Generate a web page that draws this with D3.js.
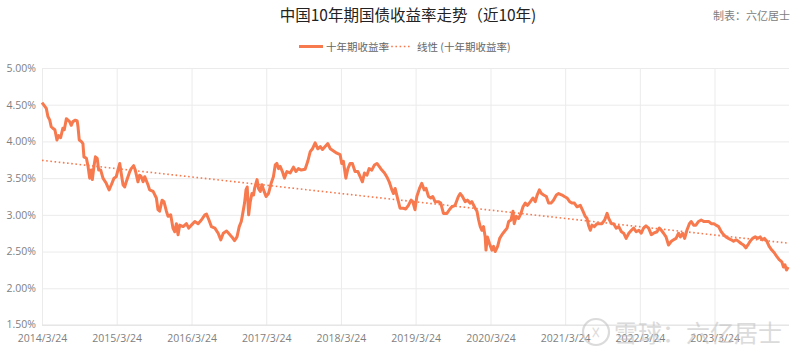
<!DOCTYPE html>
<html><head><meta charset="utf-8">
<script src="https://cdn.jsdelivr.net/npm/d3@7"></script>
<style>
html,body{margin:0;padding:0;background:#fff;}
svg{display:block;font-family:"Noto Sans CJK SC","Noto Sans",sans-serif;}
</style></head>
<body><svg id="c" width="800" height="360"></svg>
<script>
const title = "中国10年期国债收益率走势（近10年)";
const credit = "制表：六亿居士";
const seriesName = "十年期收益率";
const trendName = "线性 (十年期收益率)";
const watermark = "雪球：六亿居士";
const yTicks = [1.5, 2.0, 2.5, 3.0, 3.5, 4.0, 4.5, 5.0];
const xTickLabels = ["2014/3/24","2015/3/24","2016/3/24","2017/3/24","2018/3/24","2019/3/24","2020/3/24","2021/3/24","2022/3/24","2023/3/24"];
const dates = [
"2014-03-24","2014-04-14","2014-04-22","2014-05-01","2014-05-08","2014-05-16","2014-05-26","2014-06-05","2014-06-13","2014-06-23",
"2014-07-04","2014-07-11","2014-07-21","2014-08-06","2014-08-14","2014-08-22","2014-09-03","2014-09-12","2014-09-16","2014-09-22",
"2014-10-02","2014-10-10","2014-10-15","2014-10-27","2014-11-04","2014-11-12","2014-11-20","2014-11-25","2014-12-03","2014-12-10",
"2014-12-19","2014-12-26","2015-01-05","2015-01-16","2015-02-01","2015-02-15","2015-02-26","2015-03-11","2015-03-22",
"2015-03-30","2015-04-08","2015-04-15","2015-04-24","2015-05-02","2015-05-10","2015-05-27","2015-06-03","2015-06-15","2015-06-23",
"2015-07-06","2015-07-14","2015-07-22","2015-07-31","2015-08-08","2015-08-24","2015-09-01","2015-09-18","2015-10-04","2015-10-12",
"2015-10-20","2015-11-01","2015-11-10","2015-11-22","2015-11-30","2015-12-13","2015-12-24","2016-01-02","2016-01-10","2016-01-18",
"2016-01-26","2016-02-12","2016-02-28","2016-03-10","2016-03-23",
"2016-04-09","2016-04-25","2016-05-11","2016-05-28","2016-06-05","2016-06-17","2016-06-29","2016-07-16","2016-08-01","2016-08-14",
"2016-08-26","2016-09-11","2016-09-21","2016-10-07","2016-10-20","2016-11-01","2016-11-12","2016-11-22","2016-11-28","2016-12-08",
"2016-12-15","2016-12-21","2016-12-28","2017-01-05","2017-01-13","2017-01-21","2017-01-26","2017-02-07","2017-02-14","2017-02-23",
"2017-03-03","2017-03-11","2017-03-23",
"2017-04-04","2017-04-17","2017-04-28","2017-05-07","2017-05-15","2017-05-23","2017-05-31","2017-06-11","2017-06-21","2017-07-03",
"2017-07-19","2017-08-04","2017-08-16","2017-08-28","2017-09-11","2017-09-30","2017-10-13","2017-10-25","2017-11-05","2017-11-18",
"2017-12-01","2017-12-13","2017-12-24","2018-01-06","2018-01-19","2018-01-31","2018-02-16","2018-03-04","2018-03-20",
"2018-03-28","2018-04-05","2018-04-17","2018-04-27","2018-05-08","2018-05-19","2018-06-01","2018-06-15","2018-06-26","2018-07-07",
"2018-07-17","2018-07-29","2018-08-09","2018-08-22","2018-09-04","2018-09-16","2018-09-27","2018-10-10","2018-10-23","2018-11-03",
"2018-11-15","2018-11-28","2018-12-06","2018-12-14","2018-12-22","2018-12-30","2019-01-07","2019-01-23","2019-02-04","2019-02-17",
"2019-03-02","2019-03-10","2019-03-21",
"2019-03-30","2019-04-12","2019-04-23","2019-05-05","2019-05-14","2019-05-26","2019-06-06","2019-06-16","2019-06-27","2019-07-13",
"2019-07-25","2019-08-07","2019-08-24","2019-09-05","2019-09-17","2019-10-03","2019-10-19","2019-10-28","2019-11-08","2019-11-21",
"2019-12-02","2019-12-16","2019-12-24","2020-01-09","2020-01-18","2020-01-26","2020-02-03","2020-02-11","2020-02-19","2020-02-27",
"2020-03-02","2020-03-09","2020-03-19",
"2020-03-31","2020-04-08","2020-04-16","2020-04-28","2020-05-08","2020-05-19","2020-05-30","2020-06-13","2020-06-21","2020-07-02",
"2020-07-12","2020-07-18","2020-07-28","2020-08-08","2020-08-20","2020-08-30","2020-09-10","2020-09-21","2020-10-05","2020-10-18",
"2020-10-29","2020-11-07","2020-11-18","2020-11-28","2020-12-09","2020-12-22","2021-01-02","2021-01-14","2021-01-26","2021-02-09",
"2021-02-20","2021-03-09","2021-03-20",
"2021-04-02","2021-04-15","2021-04-26","2021-05-08","2021-05-21","2021-06-06","2021-06-19","2021-06-30","2021-07-09","2021-07-16",
"2021-07-25","2021-08-02","2021-08-13","2021-08-27","2021-09-04","2021-09-20","2021-10-03","2021-10-15","2021-10-23","2021-11-05",
"2021-11-16","2021-11-28","2021-12-11","2021-12-24","2022-01-04","2022-01-16","2022-01-29","2022-02-11","2022-02-22","2022-03-06",
"2022-03-19",
"2022-03-31","2022-04-11","2022-04-23","2022-05-06","2022-05-19","2022-05-30","2022-06-16","2022-06-27","2022-07-07","2022-07-18",
"2022-07-30","2022-08-11","2022-08-25","2022-09-05","2022-09-17","2022-09-29","2022-10-08","2022-10-19","2022-10-29","2022-11-09",
"2022-11-21","2022-11-30","2022-12-12","2022-12-23","2023-01-05","2023-01-18","2023-01-30","2023-02-10","2023-02-23","2023-03-08",
"2023-03-21",
"2023-03-31","2023-04-13","2023-04-26","2023-05-07","2023-05-19","2023-05-31","2023-06-14","2023-06-25","2023-07-07","2023-07-19",
"2023-08-01","2023-08-13","2023-08-24","2023-09-03","2023-09-14","2023-09-26","2023-10-09","2023-10-22","2023-11-02","2023-11-13",
"2023-11-23","2023-12-05","2023-12-16","2023-12-29","2024-01-11","2024-01-23","2024-02-03","2024-02-16","2024-02-24","2024-03-02",
"2024-03-10","2024-03-18"
];
const yields = [
4.53,4.45,4.34,4.29,4.20,4.18,4.16,4.02,4.08,4.05,
4.18,4.16,4.31,4.27,4.22,4.27,4.29,4.28,4.20,4.02,
4.00,3.97,3.79,3.77,3.66,3.50,3.61,3.48,3.66,3.79,
3.77,3.61,3.61,3.50,3.43,3.34,3.41,3.50,3.52,
3.61,3.70,3.57,3.41,3.38,3.45,3.59,3.63,3.67,3.61,
3.45,3.54,3.52,3.45,3.52,3.41,3.34,3.32,3.23,3.07,
3.05,3.20,3.18,3.05,2.98,3.00,2.82,2.77,2.88,2.73,
2.86,2.84,2.88,2.82,2.86,
2.91,2.88,2.93,3.00,3.01,2.93,2.84,2.82,2.75,2.66,
2.75,2.78,2.75,2.70,2.65,2.70,2.84,2.91,3.00,3.16,
3.34,3.38,3.00,3.18,3.29,3.27,3.36,3.48,3.36,3.32,
3.41,3.34,3.25,
3.29,3.43,3.52,3.68,3.70,3.63,3.66,3.59,3.50,3.59,
3.57,3.65,3.59,3.63,3.61,3.62,3.73,3.86,3.90,3.98,
3.90,3.93,3.89,3.93,3.97,3.90,3.87,3.84,3.82,
3.70,3.73,3.50,3.63,3.70,3.70,3.59,3.59,3.52,3.45,
3.57,3.54,3.63,3.61,3.68,3.70,3.66,3.61,3.57,3.52,
3.45,3.34,3.29,3.36,3.27,3.18,3.09,3.09,3.08,3.13,
3.20,3.18,3.07,
3.25,3.36,3.43,3.34,3.36,3.25,3.23,3.25,3.18,3.18,
3.16,3.02,3.02,3.07,3.11,3.13,3.25,3.29,3.25,3.18,
3.20,3.16,3.18,3.09,3.05,2.93,2.84,2.79,2.84,2.70,
2.52,2.70,2.61,
2.52,2.57,2.50,2.57,2.68,2.73,2.77,2.82,2.91,2.93,
3.05,2.88,2.98,2.95,3.02,3.11,3.16,3.13,3.18,3.23,
3.18,3.27,3.34,3.29,3.27,3.25,3.16,3.16,3.20,3.27,
3.29,3.27,3.25,
3.23,3.18,3.16,3.16,3.11,3.13,3.05,2.98,2.95,2.86,
2.79,2.86,2.84,2.88,2.88,2.88,2.93,3.02,2.95,2.88,
2.88,2.82,2.84,2.77,2.75,2.68,2.75,2.79,2.82,2.77,
2.79,
2.75,2.82,2.85,2.82,2.73,2.75,2.77,2.82,2.79,2.75,
2.70,2.59,2.64,2.66,2.68,2.75,2.70,2.75,2.68,2.79,
2.88,2.91,2.86,2.86,2.91,2.93,2.91,2.91,2.91,2.88,
2.88,
2.86,2.84,2.77,2.73,2.70,2.68,2.66,2.64,2.66,2.64,
2.61,2.59,2.55,2.59,2.64,2.68,2.70,2.68,2.70,2.66,
2.68,2.64,2.57,2.52,2.48,2.43,2.39,2.36,2.29,2.32,
2.25,2.29
];

const parse = d3.timeParse("%Y-%m-%d");
const data = dates.map((d,i)=>({date:parse(d), v:yields[i]}));
const svg = d3.select("#c");
const W=800,H=360;
const m = {l:42, r:11, t:68, b:35};
const x = d3.scaleTime().domain([parse("2014-03-24"), parse("2024-03-22")]).range([m.l, W-m.r]);
const y = d3.scaleLinear().domain([1.5,5.0]).range([H-m.b, m.t]);
const tickDates = xTickLabels.map(s=>d3.timeParse("%Y/%m/%d")(s));
const labelColor = "#7f7f7f";
const lineColor = "#F7794E";

// grid + y axis
const gY = svg.append("g").attr("transform",`translate(${m.l},0)`)
  .call(d3.axisLeft(y).tickValues(yTicks).tickSize(-(W-m.l-m.r)).tickFormat(d=>d3.format(".2f")(d)+"%").tickPadding(6));
gY.select(".domain").remove();
gY.selectAll(".tick line").attr("stroke","#ebebeb").attr("stroke-width",1);
gY.selectAll(".tick text").attr("fill",labelColor).attr("font-size","10.5px").attr("font-family","'Open Sans','Noto Sans',sans-serif");
gY.selectAll(".tick").filter(d=>d===1.5).select("text").attr("dy","0.2em");

// x axis
const gX = svg.append("g").attr("transform",`translate(0,${H-m.b})`)
  .call(d3.axisBottom(x).tickValues(tickDates).tickSize(-(H-m.b-m.t)).tickFormat((d,i)=>xTickLabels[i]).tickPadding(10));
gX.select(".domain").remove();
gX.selectAll(".tick line").attr("stroke","#ebebeb").attr("stroke-width",1);
gX.selectAll(".tick text").attr("fill",labelColor).attr("font-size","10.5px").attr("font-family","'Open Sans','Noto Sans',sans-serif");

// bottom axis line
svg.append("line").attr("x1",m.l).attr("x2",W-m.r).attr("y1",y(1.5)).attr("y2",y(1.5)).attr("stroke","#e2e2e2");

// series
svg.append("path").datum(data)
  .attr("fill","none").attr("stroke",lineColor).attr("stroke-width",3).attr("stroke-linejoin","round")
  .attr("d",d3.line().x(d=>x(d.date)).y(d=>y(d.v)));

// linear trend (least squares)
const xs = data.map(d=>+d.date), ys = data.map(d=>d.v);
const mx = d3.mean(xs), my = d3.mean(ys);
const slope = d3.sum(xs.map((xv,i)=>(xv-mx)*(ys[i]-my))) / d3.sum(xs.map(xv=>(xv-mx)*(xv-mx)));
const icpt = my - slope*mx;
const ends = [data[0].date, data[data.length-1].date];
svg.append("path").datum(ends)
  .attr("fill","none").attr("stroke",lineColor).attr("stroke-width",1.6).attr("stroke-dasharray","1.6,2.6")
  .attr("d",d3.line().x(d=>x(d)).y(d=>y(icpt+slope*(+d))));

// title
svg.append("text").attr("x",408).attr("y",21).attr("text-anchor","middle")
  .attr("font-size","15.5px").attr("fill","#222").text(title);
svg.append("text").attr("x",790).attr("y",20).attr("text-anchor","end")
  .attr("font-size","11px").attr("fill","#808080").text(credit);

// legend
const lg = svg.append("g");
lg.append("line").attr("x1",299).attr("x2",323).attr("y1",46.5).attr("y2",46.5).attr("stroke",lineColor).attr("stroke-width",3);
lg.append("text").attr("x",326).attr("y",50.5).attr("font-size","10.5px").attr("fill","#666").text(seriesName);
lg.append("line").attr("x1",387).attr("x2",410).attr("y1",46.5).attr("y2",46.5).attr("stroke",lineColor).attr("stroke-width",1.6).attr("stroke-dasharray","1.6,2.6");
lg.append("text").attr("x",417).attr("y",50.5).attr("font-size","10.5px").attr("fill","#666").text(trendName);

// watermark
const wm = svg.append("g").attr("opacity",0.6);
wm.append("circle").attr("cx",596).attr("cy",332).attr("r",13).attr("fill","none").attr("stroke","#c4c4c4").attr("stroke-width",2.2);
wm.append("text").attr("x",596).attr("y",339).attr("text-anchor","middle").attr("font-size","18px").attr("fill","#c4c4c4").text("☓");
wm.append("text").attr("x",614).attr("y",342).attr("font-size","24px").attr("fill","#c4c4c4").text(watermark);
</script></body></html>
